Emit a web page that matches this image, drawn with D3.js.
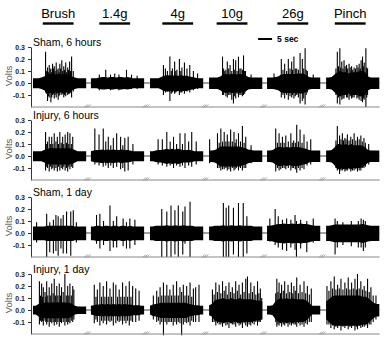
<!DOCTYPE html>
<html><head><meta charset="utf-8">
<script src="https://cdn.jsdelivr.net/npm/d3@7"></script>
<style>body{margin:0;background:#fff} svg{display:block} text{font-family:Arial,"Liberation Sans",sans-serif}</style>
</head><body><svg id="c" width="388" height="348"></svg>
<script>
// ---------- DATA ----------
const stimuli = ["Brush","1.4g","4g","10g","26g","Pinch"];
const stimStart = [3.5,3.0,4.4,2.7,3.7,3.1];   // seconds into each trace segment
const stimDur = 11;                              // seconds
const panelLabels = ["Sham, 6 hours","Injury, 6 hours","Sham, 1 day","Injury, 1 day"];
const yTicks = [-0.1,0,0.1,0.2,0.3];
const scaleBarSec = 5;
const scaleBarLabel = "5 sec";

// noise band half-width (V), one value per second (0..19 s) for each of the 6 segments
const envSham6h = [
 [0.04,0.04,0.04,0.045,0.055,0.07,0.075,0.075,0.07,0.075,0.07,0.075,0.07,0.065,0.055,0.045,0.04,0.04,0.04,0.04],
 [0.04,0.04,0.04,0.045,0.05,0.05,0.045,0.05,0.05,0.045,0.05,0.05,0.045,0.05,0.045,0.04,0.04,0.04,0.04,0.04],
 [0.04,0.04,0.04,0.04,0.05,0.06,0.065,0.065,0.06,0.065,0.06,0.065,0.06,0.06,0.055,0.05,0.045,0.04,0.04,0.04],
 [0.045,0.045,0.045,0.045,0.055,0.07,0.075,0.07,0.075,0.075,0.07,0.075,0.07,0.065,0.05,0.045,0.045,0.045,0.045,0.045],
 [0.045,0.045,0.045,0.05,0.055,0.07,0.075,0.075,0.075,0.075,0.075,0.08,0.08,0.08,0.065,0.05,0.045,0.045,0.045,0.045],
 [0.045,0.045,0.05,0.07,0.09,0.1,0.09,0.09,0.08,0.09,0.09,0.09,0.1,0.1,0.09,0.055,0.045,0.045,0.045,0.045]
];
const envInjury6h = [
 [0.04,0.04,0.04,0.04,0.05,0.06,0.065,0.065,0.065,0.065,0.065,0.065,0.065,0.065,0.06,0.05,0.04,0.04,0.04,0.04],
 [0.04,0.045,0.05,0.05,0.055,0.05,0.055,0.05,0.055,0.05,0.05,0.055,0.05,0.05,0.045,0.04,0.04,0.04,0.04,0.04],
 [0.04,0.04,0.045,0.05,0.05,0.055,0.06,0.055,0.06,0.055,0.06,0.055,0.05,0.05,0.05,0.045,0.04,0.04,0.04,0.04],
 [0.045,0.045,0.05,0.06,0.08,0.08,0.08,0.08,0.08,0.08,0.08,0.08,0.07,0.065,0.055,0.05,0.045,0.045,0.045,0.045],
 [0.045,0.045,0.05,0.065,0.075,0.075,0.07,0.075,0.07,0.075,0.075,0.075,0.07,0.065,0.06,0.05,0.045,0.045,0.045,0.045],
 [0.045,0.045,0.05,0.07,0.1,0.1,0.09,0.1,0.09,0.1,0.09,0.09,0.09,0.085,0.07,0.05,0.045,0.045,0.045,0.045]
];
const envSham1d = [
 [0.055,0.055,0.055,0.055,0.055,0.06,0.06,0.06,0.06,0.06,0.06,0.06,0.06,0.06,0.06,0.055,0.055,0.055,0.055,0.055],
 [0.055,0.055,0.06,0.06,0.055,0.06,0.06,0.055,0.06,0.06,0.055,0.06,0.06,0.055,0.06,0.055,0.055,0.055,0.055,0.055],
 [0.055,0.055,0.06,0.06,0.06,0.06,0.065,0.06,0.06,0.065,0.06,0.06,0.065,0.06,0.06,0.06,0.055,0.055,0.055,0.055],
 [0.055,0.055,0.06,0.06,0.06,0.065,0.06,0.06,0.065,0.06,0.06,0.065,0.06,0.06,0.06,0.06,0.055,0.055,0.055,0.055],
 [0.06,0.06,0.065,0.07,0.075,0.075,0.08,0.075,0.075,0.08,0.075,0.075,0.08,0.075,0.075,0.07,0.065,0.06,0.06,0.06],
 [0.06,0.06,0.065,0.07,0.07,0.07,0.07,0.07,0.07,0.07,0.07,0.07,0.07,0.075,0.07,0.065,0.06,0.06,0.06,0.06]
];
const envInjury1d = [
 [0.035,0.035,0.05,0.06,0.06,0.065,0.06,0.065,0.06,0.065,0.06,0.065,0.06,0.06,0.05,0.035,0.03,0.03,0.03,0.03],
 [0.035,0.04,0.045,0.045,0.05,0.045,0.05,0.045,0.05,0.045,0.05,0.045,0.05,0.045,0.045,0.04,0.04,0.04,0.035,0.035],
 [0.035,0.045,0.05,0.055,0.06,0.06,0.06,0.06,0.06,0.06,0.06,0.06,0.06,0.06,0.05,0.045,0.04,0.04,0.035,0.035],
 [0.04,0.05,0.08,0.09,0.09,0.1,0.09,0.09,0.1,0.09,0.09,0.1,0.09,0.09,0.09,0.09,0.085,0.08,0.08,0.07],
 [0.035,0.035,0.04,0.07,0.09,0.1,0.09,0.1,0.09,0.1,0.09,0.09,0.09,0.09,0.08,0.06,0.035,0.035,0.035,0.035],
 [0.07,0.09,0.11,0.12,0.12,0.12,0.12,0.12,0.12,0.12,0.12,0.12,0.12,0.11,0.11,0.1,0.08,0.06,0.05,0.05]
];

// spikes: [time in segment (s), peak (V), trough (V)]
const spikesSham6h = [
 [[4.5,0.26,-0.08],[4.8,0.1,-0.09],[5.2,0.13,-0.15],[5.5,0.09,-0.11],[5.8,0.15,-0.12],[6.1,0.11,-0.08],[6.4,0.12,-0.16],[6.7,0.09,-0.12],[7.0,0.16,-0.1],[7.3,0.12,-0.09],[7.6,0.14,-0.13],[7.9,0.1,-0.1],[8.3,0.17,-0.12],[8.6,0.11,-0.09],[9.0,0.12,-0.14],[9.3,0.09,-0.11],[9.6,0.16,-0.1],[9.9,0.12,-0.08],[10.3,0.19,-0.1],[10.6,0.1,-0.09],[11.0,0.14,-0.12],[11.3,0.11,-0.1],[11.7,0.17,-0.11],[12.0,0.09,-0.08],[12.4,0.13,-0.1],[12.7,0.11,-0.09],[13.1,0.18,-0.09],[13.4,0.1,-0.08],[13.8,0.22,-0.12],[14.4,0.1,-0.07]],
 [[3,0.07,-0.06],[5.3,0.11,-0.05],[7,0.07,-0.06],[8.5,0.08,-0.05],[10,0.07,-0.06],[12.7,0.11,-0.05],[14.5,0.07,-0.05],[16.5,0.06,-0.05]],
 [[4.8,0.15,-0.1],[5.5,0.12,-0.08],[6.2,0.1,-0.07],[7.1,0.22,-0.15],[7.6,0.1,-0.09],[8,0.12,-0.08],[8.8,0.18,-0.09],[9.2,0.1,-0.08],[9.6,0.11,-0.07],[10.5,0.2,-0.1],[11.0,0.1,-0.08],[11.4,0.13,-0.08],[12.3,0.17,-0.09],[13.2,0.12,-0.07],[14.2,0.15,-0.08],[15.5,0.1,-0.06],[17,0.08,-0.05]],
 [[4.8,0.22,-0.1],[5.2,0.12,-0.1],[5.6,0.1,-0.08],[6.0,0.11,-0.11],[6.5,0.18,-0.12],[7.0,0.12,-0.1],[7.5,0.15,-0.1],[8.1,0.1,-0.14],[8.7,0.2,-0.17],[9.0,0.11,-0.11],[9.5,0.19,-0.13],[10.0,0.1,-0.09],[10.5,0.22,-0.12],[11.0,0.12,-0.1],[11.4,0.12,-0.1],[11.9,0.11,-0.11],[12.3,0.23,-0.1],[12.7,0.1,-0.09],[13.0,0.1,-0.07],[15,0.07,-0.05]],
 [[2.5,0.08,-0.05],[5.1,0.2,-0.12],[5.7,0.11,-0.1],[6.3,0.16,-0.13],[7.0,0.1,-0.1],[7.6,0.2,-0.14],[8.2,0.12,-0.11],[8.8,0.18,-0.12],[9.1,0.11,-0.1],[9.6,0.22,-0.13],[10.1,0.12,-0.11],[10.6,0.12,-0.1],[11.2,0.11,-0.12],[11.8,0.25,-0.17],[12.6,0.2,-0.15],[13.1,0.12,-0.13],[13.6,0.29,-0.18],[14.0,0.11,-0.1],[14.4,0.1,-0.08],[16.5,0.07,-0.05]],
 [[3.5,0.12,-0.1],[4.0,0.26,-0.17],[4.4,0.14,-0.12],[4.9,0.29,-0.18],[5.2,0.13,-0.11],[5.6,0.18,-0.14],[6.0,0.12,-0.13],[6.4,0.19,-0.13],[6.8,0.14,-0.1],[7.3,0.15,-0.12],[7.7,0.12,-0.12],[8.2,0.16,-0.14],[8.6,0.13,-0.11],[9.1,0.14,-0.13],[9.5,0.11,-0.12],[10,0.13,-0.12],[10.5,0.12,-0.1],[11,0.15,-0.13],[11.4,0.13,-0.12],[11.8,0.16,-0.14],[12.2,0.12,-0.11],[12.5,0.19,-0.15],[13,0.22,-0.16],[13.3,0.14,-0.13],[13.6,0.17,-0.14],[14.2,0.29,-0.2],[14.5,0.13,-0.12],[14.8,0.12,-0.1]]
];
const spikesInjury6h = [
 [[4.5,0.2,-0.12],[4.9,0.1,-0.09],[5.2,0.12,-0.1],[5.8,0.16,-0.13],[6.2,0.1,-0.09],[6.7,0.16,-0.11],[7.1,0.1,-0.1],[7.6,0.19,-0.12],[8.2,0.12,-0.1],[8.7,0.16,-0.13],[9.1,0.1,-0.09],[9.6,0.2,-0.12],[10.1,0.11,-0.1],[10.6,0.16,-0.11],[11.0,0.1,-0.09],[11.5,0.18,-0.12],[12.0,0.11,-0.1],[12.4,0.2,-0.13],[12.8,0.1,-0.09],[13.2,0.19,-0.11],[13.7,0.1,-0.09],[14.2,0.16,-0.1]],
 [[1.4,0.23,-0.07],[2.9,0.18,-0.08],[4.4,0.23,-0.09],[5.3,0.12,-0.08],[6.2,0.16,-0.1],[7.1,0.09,-0.08],[8,0.15,-0.1],[9.2,0.19,-0.09],[10.6,0.16,-0.11],[11.4,0.09,-0.1],[12.1,0.15,-0.13],[13.3,0.16,-0.12],[15,0.1,-0.07]],
 [[2.9,0.14,-0.07],[4.4,0.14,-0.08],[6,0.2,-0.09],[7.2,0.12,-0.08],[8.4,0.16,-0.1],[9.5,0.1,-0.08],[10.7,0.19,-0.09],[11.6,0.1,-0.08],[12.5,0.19,-0.1],[13.8,0.12,-0.08],[14.9,0.2,-0.09],[16.5,0.12,-0.07]],
 [[0.2,0.14,-0.06],[3,0.19,-0.1],[3.6,0.11,-0.1],[4.2,0.23,-0.12],[4.8,0.12,-0.11],[5.4,0.2,-0.11],[6.0,0.12,-0.1],[6.5,0.18,-0.12],[7.1,0.12,-0.11],[7.7,0.22,-0.13],[8.3,0.12,-0.1],[8.9,0.2,-0.12],[9.3,0.11,-0.11],[9.7,0.14,-0.1],[10.5,0.19,-0.12],[11.2,0.12,-0.1],[11.9,0.25,-0.12],[12.5,0.11,-0.1],[13.1,0.16,-0.1],[15,0.09,-0.06]],
 [[3.1,0.23,-0.13],[3.7,0.11,-0.1],[4.3,0.19,-0.12],[4.9,0.11,-0.11],[5.5,0.16,-0.1],[6.1,0.11,-0.1],[6.7,0.17,-0.11],[7.6,0.12,-0.1],[8.5,0.19,-0.12],[9.0,0.11,-0.1],[9.5,0.13,-0.1],[10.1,0.11,-0.11],[10.6,0.26,-0.14],[11.2,0.12,-0.1],[11.8,0.22,-0.12],[12.5,0.11,-0.1],[13.2,0.18,-0.11],[14.3,0.12,-0.08],[15.6,0.14,-0.07]],
 [[3.5,0.13,-0.1],[4,0.25,-0.12],[4.8,0.17,-0.15],[5.3,0.14,-0.12],[5.8,0.19,-0.12],[6.2,0.13,-0.11],[6.7,0.15,-0.13],[7.1,0.14,-0.12],[7.6,0.18,-0.12],[8.2,0.13,-0.11],[8.8,0.16,-0.13],[9.4,0.14,-0.12],[10,0.19,-0.12],[10.6,0.13,-0.11],[11.2,0.16,-0.13],[11.8,0.14,-0.12],[12.4,0.17,-0.12],[12.9,0.12,-0.1],[13.5,0.15,-0.1],[14,0.11,-0.09],[15.2,0.1,-0.07]]
];
const spikesSham1d = [
 [[1.3,0.09,-0.08],[4.9,0.16,-0.2],[6,0.09,-0.16],[7.3,0.11,-0.17],[8.2,0.15,-0.15],[9,0.14,-0.19],[10,0.12,-0.13],[10.8,0.15,-0.17],[12,0.18,-0.17],[13.5,0.18,-0.19],[14.4,0.19,-0.06],[15.5,0.09,-0.08]],
 [[2,0.15,-0.09],[3.2,0.16,-0.13],[4.5,0.1,-0.1],[6.8,0.23,-0.15],[8,0.1,-0.12],[9.2,0.14,-0.12],[11.5,0.12,-0.11],[12.7,0.09,-0.13],[13.9,0.12,-0.13],[15.7,0.11,-0.1]],
 [[4.2,0.2,-0.2],[6,0.18,-0.2],[7.5,0.23,-0.2],[8.9,0.19,-0.18],[10.1,0.23,-0.2],[11.7,0.18,-0.18],[12.5,0.22,-0.09],[14.3,0.26,-0.2]],
 [[5.1,0.25,-0.2],[6.1,0.21,-0.2],[7,0.23,-0.2],[8.7,0.21,-0.18],[10.5,0.25,-0.2],[12.2,0.25,-0.2],[13.5,0.14,-0.17]],
 [[1,0.12,-0.07],[2.9,0.2,-0.1],[4,0.14,-0.12],[5.5,0.11,-0.14],[7,0.12,-0.15],[8.5,0.11,-0.12],[10,0.15,-0.14],[10.5,0.1,-0.2],[12,0.11,-0.13],[14.2,0.1,-0.16],[16.5,0.12,-0.08]],
 [[3.2,0.12,-0.18],[4,0.1,-0.12],[6,0.09,-0.1],[9,0.1,-0.11],[11.5,0.1,-0.12],[12.5,0.12,-0.12],[13.3,0.11,-0.15],[14,0.1,-0.12]]
];
const spikesInjury1d = [
 [[2.3,0.24,-0.12],[2.7,0.12,-0.09],[3.1,0.22,-0.1],[3.4,0.11,-0.09],[3.7,0.19,-0.13],[4.3,0.15,-0.09],[4.6,0.11,-0.1],[4.9,0.24,-0.12],[5.3,0.12,-0.1],[5.8,0.19,-0.14],[6.2,0.12,-0.1],[6.7,0.22,-0.11],[7.2,0.14,-0.1],[7.6,0.26,-0.13],[8.0,0.12,-0.1],[8.5,0.2,-0.12],[8.9,0.12,-0.1],[9.4,0.22,-0.14],[9.8,0.12,-0.1],[10.2,0.19,-0.11],[10.8,0.15,-0.1],[11.4,0.3,-0.13],[11.9,0.12,-0.1],[12.4,0.2,-0.12],[12.8,0.12,-0.1],[13.2,0.22,-0.11],[13.7,0.12,-0.09],[14.2,0.2,-0.1],[14.6,0.17,-0.08]],
 [[1.2,0.21,-0.11],[1.8,0.11,-0.08],[2.3,0.17,-0.1],[3.2,0.23,-0.13],[3.8,0.11,-0.09],[4.4,0.2,-0.11],[5.0,0.11,-0.09],[5.6,0.24,-0.12],[6.2,0.11,-0.09],[6.8,0.18,-0.1],[7.4,0.11,-0.09],[8,0.23,-0.13],[8.9,0.21,-0.11],[9.5,0.11,-0.09],[10.1,0.17,-0.1],[10.7,0.11,-0.09],[11.3,0.23,-0.12],[11.9,0.11,-0.09],[12.5,0.2,-0.11],[13.1,0.11,-0.09],[13.7,0.24,-0.13],[14.3,0.11,-0.09],[14.9,0.2,-0.1],[16,0.18,-0.1],[17.2,0.16,-0.09]],
 [[1.2,0.12,-0.08],[2.4,0.16,-0.1],[3.0,0.11,-0.09],[3.6,0.19,-0.12],[4.2,0.12,-0.1],[4.8,0.23,-0.21],[5.4,0.12,-0.1],[6,0.21,-0.12],[6.5,0.12,-0.1],[7.1,0.17,-0.1],[7.7,0.12,-0.1],[8.3,0.21,-0.13],[8.9,0.12,-0.1],[9.5,0.24,-0.12],[10.1,0.12,-0.1],[10.7,0.19,-0.11],[11.3,0.15,-0.21],[11.9,0.21,-0.12],[12.5,0.12,-0.1],[13.1,0.2,-0.11],[13.7,0.12,-0.1],[14.3,0.23,-0.13],[14.9,0.11,-0.09],[15.5,0.18,-0.1],[16.3,0.19,-0.1],[17.5,0.21,-0.1]],
 [[1.2,0.17,-0.1],[1.8,0.13,-0.1],[2.4,0.23,-0.13],[3.0,0.15,-0.11],[3.6,0.21,-0.12],[4.2,0.14,-0.12],[4.8,0.24,-0.14],[5.4,0.16,-0.11],[6,0.2,-0.13],[6.5,0.13,-0.12],[7.1,0.23,-0.15],[7.7,0.15,-0.11],[8.3,0.19,-0.12],[8.9,0.14,-0.12],[9.5,0.24,-0.14],[10.1,0.16,-0.11],[10.7,0.21,-0.13],[11.3,0.13,-0.12],[11.9,0.23,-0.15],[12.5,0.15,-0.11],[13.1,0.26,-0.13],[13.7,0.28,-0.14],[14.3,0.14,-0.12],[14.9,0.23,-0.13],[15.5,0.15,-0.11],[16.1,0.2,-0.12],[16.7,0.13,-0.1],[17.3,0.24,-0.13],[17.8,0.14,-0.1],[18.3,0.18,-0.1],[18.8,0.1,-0.08]],
 [[3.1,0.14,-0.1],[3.5,0.26,-0.14],[3.9,0.15,-0.12],[4.3,0.23,-0.13],[4.8,0.14,-0.11],[5.2,0.21,-0.14],[5.8,0.16,-0.12],[6.3,0.24,-0.13],[6.9,0.14,-0.11],[7.5,0.21,-0.14],[8.1,0.15,-0.12],[8.7,0.23,-0.13],[9.2,0.14,-0.11],[9.6,0.2,-0.12],[10.1,0.16,-0.12],[10.6,0.27,-0.14],[11.2,0.14,-0.11],[11.8,0.21,-0.13],[12.5,0.15,-0.12],[13.2,0.24,-0.14],[13.8,0.14,-0.11],[14.4,0.2,-0.12],[15.1,0.13,-0.1],[15.8,0.18,-0.1]],
 [[0.3,0.2,-0.12],[1.0,0.16,-0.12],[1.7,0.24,-0.15],[2.3,0.18,-0.13],[2.9,0.28,-0.16],[3.5,0.17,-0.14],[4.1,0.21,-0.15],[4.7,0.18,-0.13],[5.3,0.26,-0.17],[6.0,0.17,-0.14],[6.7,0.23,-0.15],[7.3,0.18,-0.13],[7.9,0.27,-0.16],[8.5,0.17,-0.14],[9.1,0.23,-0.15],[9.7,0.18,-0.13],[10.3,0.26,-0.17],[10.8,0.17,-0.14],[11.2,0.3,-0.16],[11.8,0.18,-0.13],[12.4,0.24,-0.15],[13.0,0.17,-0.14],[13.6,0.2,-0.14],[14.2,0.16,-0.13],[14.8,0.26,-0.15],[15.4,0.15,-0.12],[16,0.19,-0.12],[16.8,0.12,-0.1],[17.8,0.12,-0.08]]
];

const envelopes = [envSham6h, envInjury6h, envSham1d, envInjury1d];
const spikeSets = [spikesSham6h, spikesInjury6h, spikesSham1d, spikesInjury1d];

// ---------- LAYOUT ----------
const svg = d3.select("#c");
const segOffset = [0.7,21.4,42.5,63.6,84.3,105.4]; // display-time start of each segment
const segLen = 19;
const x = d3.scaleLinear().domain([0,125]).range([31,381]);
const zeroY = [83,156,233,310];
const fmt = d => d.toFixed(1);

stimuli.forEach((s,i) => {
  const a = x(segOffset[i]+stimStart[i]), b = x(segOffset[i]+stimStart[i]+stimDur);
  svg.append("text").attr("x",(a+b)/2).attr("y",18.3).attr("text-anchor","middle")
    .attr("font-size",13).attr("fill","#000").text(s);
  svg.append("line").attr("x1",a).attr("x2",b).attr("y1",23.5).attr("y2",23.5)
    .attr("stroke","#000").attr("stroke-width",2.4);
});
const sb0 = 81.1;
svg.append("line").attr("x1",x(sb0)).attr("x2",x(sb0+scaleBarSec)).attr("y1",39).attr("y2",39)
  .attr("stroke","#000").attr("stroke-width",2);
svg.append("text").attr("x",x(sb0+scaleBarSec)+5).attr("y",42).attr("font-size",8.5)
  .attr("font-weight","bold").attr("fill","#000").text(scaleBarLabel);

panelLabels.forEach((lab,p) => {
  const y = d3.scaleLinear().domain([-0.2,0.3]).range([zeroY[p]+24, zeroY[p]-36]);
  const g = svg.append("g");
  g.append("line").attr("x1",x(segOffset[0])).attr("x2",x(segOffset[5]+segLen))
    .attr("y1",y(0)).attr("y2",y(0)).attr("stroke","#444").attr("stroke-width",1);
  envelopes[p].forEach((env,s) => {
    const pts = env.map((h,i) => ({t: segOffset[s]+i, h}));
    const area = d3.area().x(d => x(d.t)).y0(d => y(-d.h*1.1)).y1(d => y(d.h));
    g.append("path").attr("d",area(pts)).attr("fill","#000");
  });
  spikeSets[p].forEach((sp,s) => {
    g.selectAll(null).data(sp).enter().append("line")
      .attr("x1",d => x(segOffset[s]+d[0])).attr("x2",d => x(segOffset[s]+d[0]))
      .attr("y1",d => y(d[1])).attr("y2",d => y(d[2]))
      .attr("stroke","#000").attr("stroke-width",1.1);
  });
  const ax = g.append("g").attr("transform","translate(31,0)")
    .call(d3.axisLeft(y).tickValues(yTicks).tickFormat(fmt).tickSize(3).tickSizeOuter(0).tickPadding(3));
  ax.selectAll("path,line").attr("stroke","#333");
  ax.selectAll("text").attr("font-size",7).attr("font-weight","bold").attr("fill","#222")
    .attr("font-family","Arial, Liberation Sans, sans-serif");
  const yb = y(-0.2);
  g.append("line").attr("x1",31).attr("x2",x(124.5)).attr("y1",yb).attr("y2",yb)
    .attr("stroke","#888").attr("stroke-width",1);
  for (let i=0;i<5;i++) {
    const cx = (x(segOffset[i]+segLen)+x(segOffset[i+1]))/2 - 1;
    [-1,0,1].forEach(k => {
      g.append("line").attr("x1",cx+k*1.8-1.5).attr("x2",cx+k*1.8+1.5)
        .attr("y1",yb+0.5).attr("y2",yb-2.5).attr("stroke","#888").attr("stroke-width",0.7);
    });
  }
  g.append("text").attr("x",33).attr("y",y(0.3)-1.5).attr("font-size",10.5).attr("fill","#000").text(lab);
  g.append("text").attr("transform",`translate(8,${zeroY[p]-7}) rotate(-90)`)
    .attr("text-anchor","middle").attr("dominant-baseline","central")
    .attr("font-size",9.5).attr("fill","#555").text("Volts");
});
</script></body></html>
